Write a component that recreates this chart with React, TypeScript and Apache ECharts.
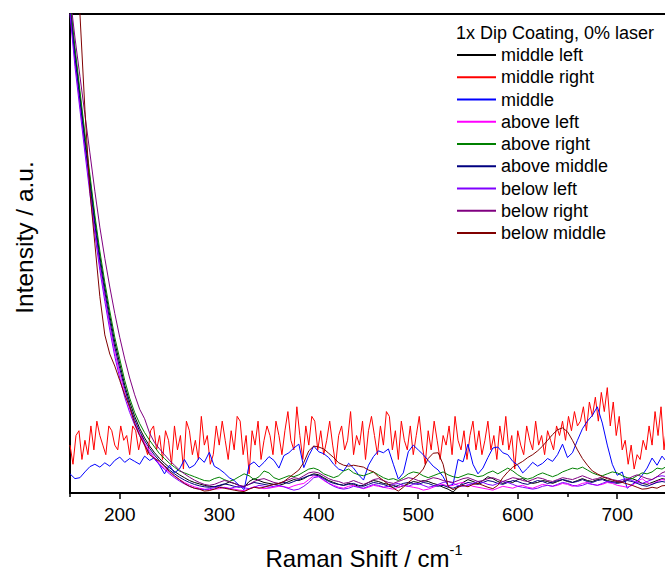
import React, { useEffect, useRef } from "react";
import * as echarts from "echarts";

// Raman shift grid: smooth series sampled every 5 cm-1 from 150, red every 3 cm-1 from 150
const X_START = 150;
const X_STEP = 5;
const RED_STEP = 3;

const xTicksMajor = [200, 300, 400, 500, 600, 700];
const xTicksMinor = [150, 250, 350, 450, 550, 650, 750];

const names = [
  "middle left",
  "middle right",
  "middle",
  "above left",
  "above right",
  "above middle",
  "below left",
  "below right",
  "below middle",
];
const colors = ["#000000", "#ff0000", "#0000ff", "#ff00ff", "#008000", "#000080", "#8000ff", "#800080", "#800000"];

const middleLeft = [
  102, 92, 83, 74, 65.5, 57, 49.5, 43, 37, 31.5,
  27, 22.5, 19, 16, 13.5, 11.5, 9.8, 8.4, 7.2, 6.2,
  5.3, 4.5, 3.8, 3.2, 2.6, 2.2, 1.9, 1.6, 1.4, 1.3,
  1.5, 1.8, 2.3, 2.0, 1.6, 1.2, 2.4, 3.0, 2.6, 2.2,
  2.0, 1.8, 1.6, 1.9, 2.4, 2.8, 2.6, 3.0, 3.6, 4.0,
  3.8, 3.2, 2.6, 2.2, 1.8, 1.6, 2.0, 1.8, 1.4, 1.6,
  2.2, 2.6, 2.4, 2.0, 1.8, 1.6, 1.2, 1.5, 1.9, 2.4,
  2.2, 2.6, 2.4, 2.0, 1.7, 1.2, 0.8, 0.2, 1.2, 2.2,
  2.8, 2.4, 2.0, 2.6, 3.4, 3.0, 2.4, 2.0, 2.4, 2.2,
  2.8, 3.0, 2.4, 2.0, 2.2, 2.6, 2.4, 2.0, 2.4, 2.8,
  2.4, 2.2, 2.6, 3.0, 2.6, 2.4, 2.8, 3.0, 2.6, 2.4,
  2.2, 2.4, 2.8, 3.0, 2.6, 2.0, 1.8, 2.2, 2.6, 3.0,
  2.8,
];

const middleRight = [
  10, 6, 12, 13, 7, 11, 8, 14, 9, 15, 12, 10, 8, 14, 13, 10, 9, 14, 11, 12, 8, 14, 13, 9, 12, 10, 8, 13, 14, 9, 12, 7, 13, 11,
  6, 14, 9, 12, 5, 15, 13, 8, 11, 7, 16, 10, 12, 6, 8, 14, 10, 15, 11, 7, 13, 9, 16, 15, 8, 12, 4, 13, 10, 15, 7, 11, 14, 12,
  8, 15, 12, 8, 13, 17, 11, 9, 18, 12, 7, 14, 10, 16, 15, 9, 13, 8, 11, 15, 10, 6, 12, 14, 9, 11, 17, 8, 12, 10, 15, 7, 13, 16,
  12, 8, 14, 10, 17, 16, 9, 13, 7, 15, 11, 9, 14, 8, 12, 16, 10, 6, 13, 9, 15, 11, 7, 12, 10, 14, 8, 16, 11, 9, 13, 7, 12, 15,
  9, 13, 8, 11, 15, 9, 12, 7, 14, 10, 16, 9, 12, 5, 13, 10, 8, 14, 11, 9, 15, 10, 12, 8, 13, 11, 9, 14, 12, 15, 11, 16, 13, 17,
  14, 15, 18, 13, 19, 16, 20, 15, 21, 17, 22, 14, 19, 12, 16, 9, 11, 6, 10, 5, 8, 7, 11, 9, 14, 10, 17, 12, 18, 9, 15,
];

const middle = [
  4.0, 3.0, 3.2, 4.4, 5.5, 6.0, 5.4, 6.3, 5.6, 6.8,
  7.5, 6.4, 7.2, 6.6, 6.0, 7.7, 6.8, 7.4, 5.8, 4.0,
  5.8, 4.2, 5.0, 7.0, 5.2, 5.8, 7.4, 6.4, 8.5, 5.6,
  5.0, 4.2, 3.2, 2.6, 1.6, 0.7, 5.8, 6.5, 5.4, 6.4,
  7.6, 6.8, 5.2, 7.8, 8.4, 9.4, 10.2, 5.3, 7.8, 9.8,
  8.6, 8.2, 7.4, 6.0, 5.0, 4.6, 6.2, 5.2, 3.8, 2.7,
  5.8, 7.6, 8.8, 8.4, 9.2, 6.0, 2.9, 4.2, 8.6, 10.0,
  9.0, 8.0, 6.8, 5.6, 4.8, 3.4, 1.5, 1.8, 7.0, 6.5,
  10.2, 6.0, 4.0, 5.2, 7.4, 9.4, 9.6, 8.4, 8.0, 6.6,
  5.8, 4.2, 5.2, 6.4, 5.6, 6.2, 7.2, 6.6, 8.0, 10.2,
  7.4, 8.4, 11.0, 13.4, 15.0, 16.2, 18.0, 14.6, 10.0, 6.0,
  3.7, 4.4, 1.0, 1.8, 2.4, 3.7, 5.2, 7.3, 5.8, 7.7,
  6.4,
];

const aboveLeft = [
  101, 90, 81, 72, 63.5, 55, 47.5, 41, 35, 29.5,
  25, 21, 17.5, 14.8, 12.4, 10.4, 8.8, 7.4, 6.2, 5.2,
  4.3, 3.5, 2.8, 2.2, 1.7, 1.3, 1.0, 0.8, 0.7, 0.8,
  0.9, 1.2, 1.0, 0.8, 0.6, 0.5, 0.9, 1.3, 1.1, 0.9,
  1.0, 1.2, 1.4, 1.3, 1.1, 1.5, 1.8, 2.0, 2.8, 3.6,
  3.4, 2.6, 2.0, 1.6, 1.2, 1.0, 1.4, 1.6, 1.2, 0.9,
  1.2, 1.6, 1.4, 1.2, 1.0, 0.8, 1.2, 1.6, 1.4, 1.2,
  1.0, 0.6, 0.8, 1.2, 1.6, 1.8, 1.4, 1.6, 2.0, 2.2,
  1.8, 1.4, 1.2, 1.0, 0.8, 0.6, 1.0, 1.4, 1.2, 1.0,
  1.4, 1.6, 1.2, 1.0, 1.4, 1.8, 1.6, 1.4, 1.6, 2.0,
  1.8, 1.4, 1.6, 2.0, 2.2, 1.8, 1.6, 1.8, 2.2, 2.0,
  1.6, 1.4, 1.2, 1.6, 2.4, 3.0, 2.2, 1.8, 2.4, 2.8,
  2.6,
];

const aboveRight = [
  103, 93, 84, 75, 66.5, 58, 50.5, 44, 38, 32.5,
  28, 23.5, 19.8, 16.8, 14.5, 12.6, 11.0, 9.6, 8.2, 7.2,
  6.2, 5.4, 4.6, 4.2, 3.8, 3.4, 3.0, 2.6, 2.5, 3.0,
  3.3, 2.8, 2.4, 2.8, 3.4, 4.0, 3.6, 2.8, 3.4, 4.6,
  4.2, 3.2, 2.8, 3.2, 3.6, 3.4, 3.8, 4.4, 5.0, 5.2,
  4.8, 4.0, 3.6, 3.2, 3.6, 4.6, 5.0, 4.2, 3.8, 3.6,
  4.0, 4.4, 3.8, 3.2, 2.8, 3.0, 2.6, 3.2, 4.0, 4.4,
  4.2, 3.6, 3.2, 3.6, 4.0, 4.4, 3.8, 3.4, 3.2, 3.6,
  4.0, 3.8, 3.4, 3.6, 4.2, 4.6, 4.0, 4.6, 5.2, 4.6,
  3.8, 3.2, 2.9, 3.2, 3.8, 4.2, 3.8, 3.4, 3.8, 4.4,
  4.8, 5.2, 5.0, 5.4, 4.8, 4.2, 3.8, 3.6, 4.0, 4.4,
  4.2, 3.6, 3.2, 3.0, 3.6, 4.2, 4.0, 4.4, 5.2, 5.0,
  5.6,
];

const aboveMiddle = [
  101, 91, 82, 73, 64.5, 56, 48.5, 42, 36, 30.5,
  26, 21.8, 18.2, 15.3, 12.9, 10.9, 9.3, 7.9, 6.7, 5.7,
  4.8, 4.0, 3.3, 2.7, 2.2, 1.8, 1.5, 1.3, 1.2, 1.3,
  1.6, 1.9, 1.7, 1.4, 1.2, 1.4, 1.8, 2.2, 2.0, 1.8,
  1.6, 1.8, 2.0, 2.2, 2.0, 2.4, 2.8, 3.2, 3.6, 3.8,
  3.6, 3.0, 2.4, 2.0, 1.8, 1.6, 1.8, 2.0, 1.6, 1.4,
  1.8, 2.2, 2.0, 1.8, 1.4, 1.2, 1.6, 2.0, 2.2, 2.0,
  1.8, 2.2, 2.0, 1.6, 1.4, 1.6, 1.2, 1.0, 1.4, 1.8,
  2.2, 2.0, 1.8, 2.2, 2.6, 2.4, 2.0, 1.8, 2.2, 2.6,
  2.4, 2.0, 1.8, 2.2, 2.6, 2.4, 2.0, 2.2, 2.6, 2.8,
  2.6, 2.2, 2.4, 2.8, 2.4, 2.2, 2.6, 2.8, 2.4, 2.2,
  2.0, 2.2, 2.6, 2.4, 2.0, 1.6, 1.4, 1.8, 2.2, 2.4,
  2.2,
];

const belowLeft = [
  100, 89, 80, 71, 62.5, 54, 46.5, 40, 34, 28.5,
  24, 20, 16.8, 14.2, 12, 10, 8.4, 7.0, 5.9, 4.9,
  4.0, 3.2, 2.5, 1.9, 1.4, 1.0, 0.8, 0.7, 0.9, 1.1,
  1.3, 1.1, 0.9, 1.2, 1.4, 1.1, 0.9, 1.2, 1.6, 1.4,
  1.2, 1.4, 1.6, 1.3, 0.9, 0.6, 0.8, 1.4, 2.2, 3.2,
  3.4, 2.8, 2.0, 1.4, 1.0, 0.8, 1.0, 1.4, 1.2, 1.0,
  1.4, 1.8, 1.6, 1.2, 1.4, 1.8, 2.0, 1.6, 1.4, 1.8,
  2.0, 1.6, 1.2, 1.4, 1.8, 2.2, 2.4, 2.0, 1.6, 1.4,
  1.6, 2.0, 2.4, 2.2, 1.8, 1.6, 2.0, 2.4, 2.2, 1.8,
  1.4, 1.2, 1.0, 0.8, 1.0, 1.4, 1.6, 1.4, 1.8, 2.2,
  2.0, 1.6, 1.4, 1.6, 2.0, 1.8, 1.6, 2.0, 2.4, 2.2,
  2.4, 2.8, 3.0, 2.6, 2.2, 2.0, 2.4, 2.8, 3.4, 3.6,
  3.4,
];

const belowRight = [
  104, 95, 87, 79, 71, 63, 55.5, 49, 43, 37.5,
  32.5, 28, 24, 20.5, 17.5, 15.5, 12.5, 10.5, 9.2, 8.0,
  6.8, 5.8, 4.8, 4.0, 3.3, 2.7, 2.2, 1.8, 1.6, 1.8,
  2.2, 2.6, 2.4, 2.0, 1.6, 1.4, 1.8, 2.4, 2.8, 3.0,
  2.6, 2.2, 2.0, 2.4, 2.8, 3.2, 3.0, 3.6, 4.2, 4.4,
  4.2, 3.6, 3.0, 2.6, 2.4, 2.0, 2.2, 2.6, 2.2, 1.8,
  2.2, 2.8, 3.0, 2.6, 2.2, 2.0, 2.4, 2.8, 3.2, 3.0,
  2.6, 2.4, 2.8, 3.2, 3.0, 2.6, 2.4, 2.2, 2.6, 3.0,
  3.2, 2.8, 2.4, 2.6, 3.0, 3.2, 2.8, 2.4, 2.8, 3.2,
  3.0, 2.6, 2.4, 2.8, 3.2, 3.0, 2.6, 2.4, 2.8, 3.2,
  3.0, 2.8, 3.2, 3.6, 3.2, 2.8, 3.0, 3.4, 3.2, 2.8,
  2.6, 2.4, 2.8, 3.4, 3.8, 3.4, 3.0, 2.8, 3.4, 4.2,
  4.6,
];

const belowMiddle = [
  140, 120, 100, 80, 63, 52, 41, 33, 29, 26.5,
  23.5, 20.5, 18, 14.5, 12, 10, 8, 7.2, 6.6, 5.6,
  4.5, 3.6, 2.8, 2.0, 1.4, 1.0, 0.8, 0.4, 0.5, 0.8,
  1.2, 1.0, 0.8, 0.6, 0.4, 0.3, 0.8, 1.2, 1.0, 1.2,
  1.5, 1.8, 2.0, 2.4, 3.2, 4.0, 4.8, 6.4, 8.8, 9.8,
  9.6, 9.2, 8.3, 7.4, 6.3, 5.8, 5.6, 5.8, 5.6, 5.4,
  4.8, 4.4, 3.4, 2.6, 1.8, 1.0, 0.4, 1.2, 2.2, 3.0,
  3.8, 5.0, 7.2, 8.3, 8.4, 6.0, 1.4, 0.7, 1.2, 1.6,
  1.3, 1.8, 2.0, 1.6, 1.2, 0.9, 1.6, 3.2, 4.4, 5.4,
  6.0, 6.6, 7.4, 8.0, 8.8, 9.8, 11.0, 12.2, 13.2, 13.6,
  12.8, 11.0, 9.0, 7.2, 5.8, 4.6, 4.0, 3.4, 3.0, 2.7,
  2.4, 2.2, 1.9, 1.6, 1.2, 0.8, 0.9, 1.2, 1.0, 1.5,
  1.6,
];

const seriesValues = [middleLeft, middleRight, middle, aboveLeft, aboveRight, aboveMiddle, belowLeft, belowRight, belowMiddle];
const seriesSteps = [X_STEP, RED_STEP, X_STEP, X_STEP, X_STEP, X_STEP, X_STEP, X_STEP, X_STEP];

const FONT = "'Liberation Sans', Arial, Helvetica, sans-serif";

function toPairs(vals: number[], step: number) {
  return vals.map((v, i) => [X_START + i * step, v]);
}

export default function App() {
  const ref = useRef<HTMLDivElement>(null);
  useEffect(() => {
    if (!ref.current) return;
    const chart = echarts.init(ref.current, undefined, { renderer: "svg" });
    const baseX = {
      type: "value" as const,
      min: 150,
      max: 748,
      splitLine: { show: false },
    };
    chart.setOption({
      animation: false,
      backgroundColor: "#ffffff",
      textStyle: { fontFamily: FONT },
      grid: { left: 70, top: 14, right: 0, bottom: 79, containLabel: false },
      xAxis: [
        {
          ...baseX,
          position: "bottom",
          axisLine: { show: true, lineStyle: { color: "#000", width: 2 } },
          axisTick: { show: true, inside: false, length: 6, lineStyle: { color: "#000", width: 1.5 }, customValues: xTicksMajor },
          axisLabel: { show: true, color: "#000", fontSize: 19, fontFamily: FONT, margin: 12, customValues: xTicksMajor },
        },
        {
          ...baseX,
          position: "bottom",
          axisLine: { show: false },
          axisTick: { show: true, inside: false, length: 4, lineStyle: { color: "#000", width: 1.5 }, customValues: xTicksMinor },
          axisLabel: { show: false },
        },
        {
          ...baseX,
          position: "top",
          axisLine: { show: true, lineStyle: { color: "#000", width: 2 } },
          axisTick: { show: false },
          axisLabel: { show: false },
        },
      ],
      yAxis: {
        type: "value",
        min: 0,
        max: 100,
        axisLine: { show: true, lineStyle: { color: "#000", width: 2 } },
        axisTick: { show: false },
        axisLabel: { show: false },
        splitLine: { show: false },
      },
      legend: {
        data: names,
        orient: "vertical",
        left: 451,
        top: 41,
        padding: 5,
        itemWidth: 39,
        itemHeight: 10,
        itemGap: 4.25,
        itemStyle: { opacity: 0 },
        textStyle: { color: "#000", fontSize: 18, fontFamily: FONT, lineHeight: 18 },
        selectedMode: false,
      },
      graphic: [
        {
          type: "text",
          x: 456,
          y: 33,
          style: { text: "1x Dip Coating, 0% laser", fontSize: 18, fontFamily: FONT, fill: "#000", align: "left", verticalAlign: "middle" },
        },
        {
          type: "text",
          x: 24,
          y: 237.5,
          rotation: Math.PI / 2,
          style: { text: "Intensity / a.u.", fontSize: 24.5, fontFamily: FONT, fill: "#000", align: "center", verticalAlign: "middle" },
        },
        {
          type: "text",
          x: 364,
          y: 556,
          style: {
            text: "{a|Raman Shift / cm}{b|-1}",
            align: "center",
            verticalAlign: "middle",
            rich: {
              a: { fontSize: 24, fontFamily: FONT, fill: "#000", lineHeight: 28, verticalAlign: "bottom" },
              b: { fontSize: 14.5, fontFamily: FONT, fill: "#000", lineHeight: 14, verticalAlign: "top" },
            },
          },
        },
      ],
      series: seriesValues.map((vals, i) => ({
        name: names[i],
        type: "line",
        xAxisIndex: 0,
        yAxisIndex: 0,
        data: toPairs(vals, seriesSteps[i]),
        symbol: "none",
        showSymbol: false,
        clip: true,
        lineStyle: { color: colors[i], width: 1 },
        itemStyle: { color: colors[i] },
        emphasis: { disabled: true },
      })),
    });
    return () => chart.dispose();
  }, []);
  return <div ref={ref} style={{ position: "fixed", left: 0, top: 0, width: 665, height: 572 }} />;
}
